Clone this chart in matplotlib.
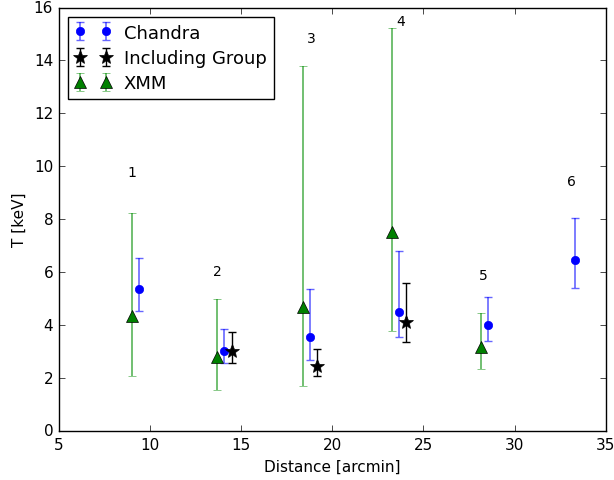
import matplotlib
matplotlib.use("Agg")
import matplotlib.pyplot as plt
import numpy as np

plt.style.use("classic")

# Chandra temperatures
chandra_r = [9.40, 14.08, 18.78, 23.67, 28.57, 33.32]
chandra_T = [5.36, 3.03, 3.54, 4.51, 4.02, 6.47]
chandra_hi = [6.54, 3.85, 5.36, 6.79, 5.07, 8.04]
chandra_lo = [4.52, 2.56, 2.67, 3.54, 3.39, 5.40]

# Fits including the group emission
group_r = [14.51, 19.19, 24.07]
group_T = [3.03, 2.47, 4.13]
group_hi = [3.75, 3.10, 5.59]
group_lo = [2.56, 2.09, 3.35]

# XMM temperatures
xmm_r = [9.00, 13.70, 18.38, 23.28, 28.16]
xmm_T = [4.36, 2.78, 4.67, 7.51, 3.16]
xmm_hi = [8.24, 4.99, 13.80, 15.21, 4.46]
xmm_lo = [2.09, 1.54, 1.71, 3.77, 2.34]

# Region numbers
region_labels = ["1", "2", "3", "4", "5", "6"]
region_x = [9.02, 13.70, 18.84, 23.78, 28.30, 33.14]
region_y = [9.78, 6.06, 14.86, 15.50, 5.88, 9.45]


def yerr(T, lo, hi):
    T = np.asarray(T)
    return np.vstack([T - np.asarray(lo), np.asarray(hi) - T])


fig = plt.figure(figsize=(6.14, 4.81), dpi=100, facecolor="white")
ax = fig.add_axes([0.0956, 0.1019, 0.8909, 0.8804])
ax.set_facecolor("white")

ax.errorbar(chandra_r, chandra_T, yerr=yerr(chandra_T, chandra_lo, chandra_hi),
            fmt="o", color="blue", mec="blue", ms=6, ecolor=(0, 0, 1, 0.6),
            elinewidth=1.2, capsize=3, capthick=1, label="Chandra")
ax.errorbar(group_r, group_T, yerr=yerr(group_T, group_lo, group_hi),
            fmt="*", color="black", mec="black", ms=10, ecolor="black",
            elinewidth=1, capsize=3, capthick=1, label="Including Group")
ax.errorbar(xmm_r, xmm_T, yerr=yerr(xmm_T, xmm_lo, xmm_hi),
            fmt="^", color="green", mec="black", mew=0.5, ms=9,
            ecolor=(0, 0.55, 0, 0.65), elinewidth=1.2, capsize=3, capthick=1,
            label="XMM")

for lab, x, y in zip(region_labels, region_x, region_y):
    ax.text(x, y, lab, ha="center", va="center", fontsize=10)

ax.set_xlim(5, 35)
ax.set_ylim(0, 16)
ax.set_xticks(np.arange(5, 36, 5))
ax.set_yticks(np.arange(0, 17, 2))
ax.tick_params(labelsize=11)
ax.set_xlabel("Distance [arcmin]", fontsize=11)
ax.set_ylabel("T [keV]", fontsize=11)

leg = ax.legend(loc="upper left", numpoints=2, fontsize=13, fancybox=False,
                borderaxespad=0.5, handletextpad=0.7, labelspacing=0.4)
leg.get_frame().set_edgecolor("black")

fig.savefig("out.png", dpi=100, facecolor="white")
